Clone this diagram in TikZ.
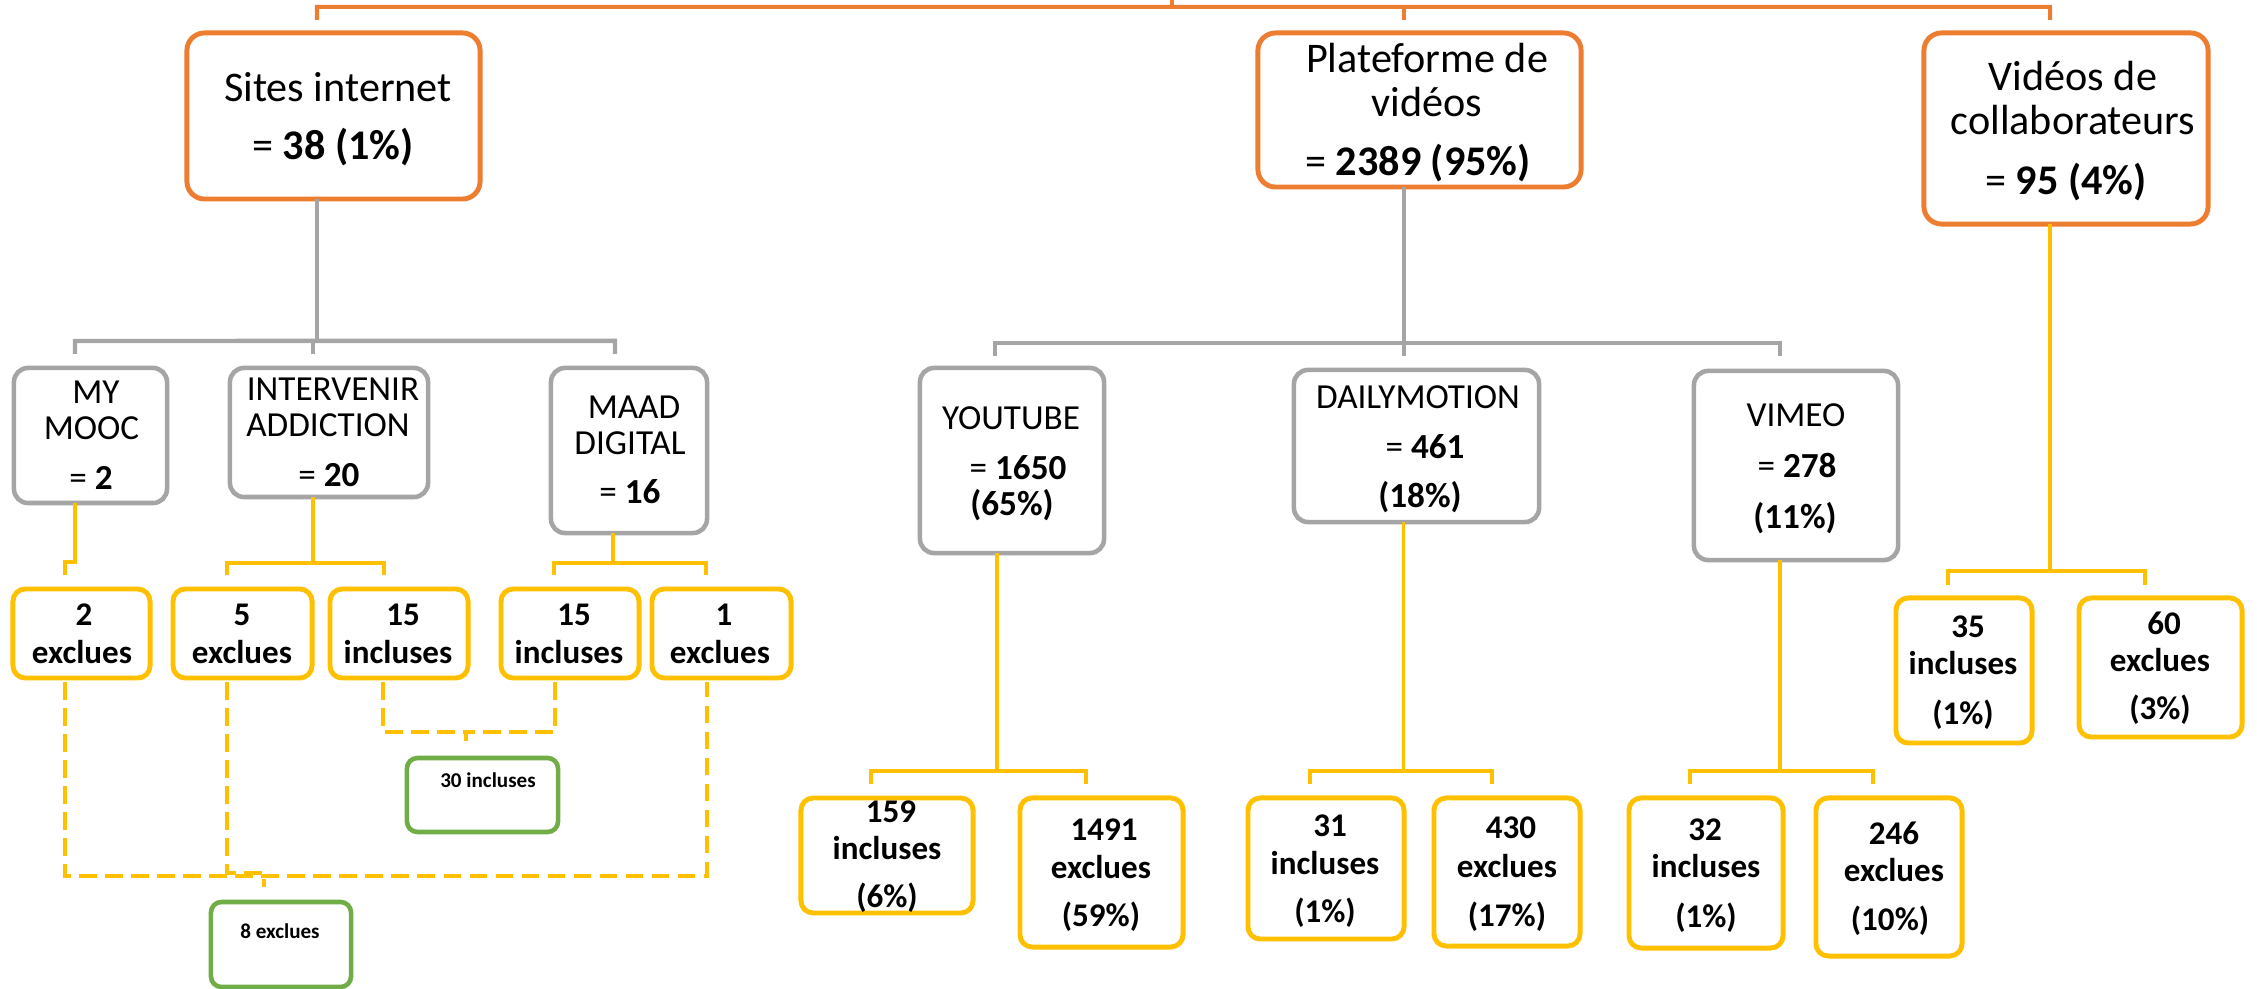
\documentclass[tikz,border=0pt]{standalone}
\usepackage{fontspec}
\setmainfont{Carlito}
\usetikzlibrary{calc}
\definecolor{corange}{HTML}{ED7D31}
\definecolor{cgray}{HTML}{A5A5A5}
\definecolor{cyellow}{HTML}{FFC000}
\definecolor{cgreen}{HTML}{70AD47}
\begin{document}
\begin{tikzpicture}[x=0.01cm,y=-0.01cm,
  every node/.style={inner sep=0pt,outer sep=0pt},
  obox/.style={draw=corange,line width=1.4pt,rounded corners=5pt},
  gbox/.style={draw=cgray,line width=1.3pt,rounded corners=4pt},
  ybox/.style={draw=cyellow,line width=1.4pt,rounded corners=3.5pt},
  grbox/.style={draw=cgreen,line width=1.3pt,rounded corners=3pt},
  oline/.style={draw=corange,line width=1.15pt},
  gline/.style={draw=cgray,line width=1.25pt},
  yline/.style={draw=cyellow,line width=1.2pt},
  ythin/.style={draw=cyellow,line width=1.0pt},
  dline/.style={draw=cyellow,line width=1.15pt,dash pattern=on 5pt off 2.4pt},
  tA/.style={font=\fontsize{12}{14}\selectfont},
  tB/.style={font=\fontsize{10}{12}\selectfont},
  tC/.style={font=\fontsize{9.4}{11}\selectfont\bfseries},
  tD/.style={font=\fontsize{6}{7}\selectfont\bfseries}]
\useasboundingbox (0,0) rectangle (2257,989);

% ---------- level 1 (orange)
\node[obox,minimum width=2.93cm,minimum height=1.66cm] (sites) at (333.5,116) {};
\node[obox,minimum width=3.23cm,minimum height=1.54cm] (plat) at (1419.5,110) {};
\node[obox,minimum width=2.84cm,minimum height=1.91cm] (collab) at (2066,128.5) {};

\node[tA] (sitesA) at (338,87) {Sites internet};
\node[tA] (sitesB) at (333,147) {= \textbf{38 (1\%)}};
\node[tA] (platA) at (1427,58) {Plateforme de};
\node[tA] (platB) at (1427,102) {vidéos};
\node[tA] (platC) at (1418,163) {= \textbf{2389 (95\%)}};
\node[tA] (collabA) at (2073,76) {Vidéos de};
\node[tA] (collabB) at (2073,120) {collaborateurs};
\node[tA] (collabC) at (2066,182) {= \textbf{95 (4\%)}};

% ---------- level 2 (gray)
\node[gbox,minimum width=1.53cm,minimum height=1.35cm] (mymooc) at (90.5,435.5) {};
\node[gbox,minimum width=1.98cm,minimum height=1.29cm] (interv) at (329,432.5) {};
\node[gbox,minimum width=1.56cm,minimum height=1.65cm] (maad) at (629,450.5) {};
\node[gbox,minimum width=1.84cm,minimum height=1.85cm] (youtube) at (1012,460.5) {};
\node[gbox,minimum width=2.45cm,minimum height=1.52cm] (daily) at (1416.5,446) {};
\node[gbox,minimum width=2.04cm,minimum height=1.89cm] (vimeo) at (1796,465.5) {};

\node[tB] (mymoocA) at (96,392) {MY};
\node[tB] (mymoocB) at (91.5,428) {MOOC};
\node[tB] (mymoocC) at (91,478) {= \textbf{2}};
\node[tB] (intervA) at (333,389) {INTERVENIR};
\node[tB] (intervB) at (328,425) {ADDICTION};
\node[tB] (intervC) at (329,475) {= \textbf{20}};
\node[tB] (maadA) at (634,407) {MAAD};
\node[tB] (maadB) at (630,443) {DIGITAL};
\node[tB] (maadC) at (630,492) {= \textbf{16}};
\node[tB] (youtubeA) at (1011,418) {YOUTUBE};
\node[tB] (youtubeB) at (1018,468) {= \textbf{1650}};
\node[tB] (youtubeC) at (1012,505) {\textbf{(65\%)}};
\node[tB] (dailyA) at (1418,397) {DAILYMOTION};
\node[tB] (dailyB) at (1425,447) {= \textbf{461}};
\node[tB] (dailyC) at (1420,497) {\textbf{(18\%)}};
\node[tB] (vimeoA) at (1796,415) {VIMEO};
\node[tB] (vimeoB) at (1797,465) {= \textbf{278}};
\node[tB] (vimeoC) at (1795,518) {\textbf{(11\%)}};

% ---------- level 3 left (yellow)
\node[ybox,minimum width=1.37cm,minimum height=0.89cm] (e2) at (81.5,633.5) {};
\node[ybox,minimum width=1.39cm,minimum height=0.89cm] (e5) at (242.5,633.5) {};
\node[ybox,minimum width=1.38cm,minimum height=0.89cm] (i15a) at (399,633.5) {};
\node[ybox,minimum width=1.38cm,minimum height=0.89cm] (i15b) at (570,633.5) {};
\node[ybox,minimum width=1.39cm,minimum height=0.89cm] (e1) at (721.5,633.5) {};

\node[tC] (e2A) at (84,615) {2};
\node[tC] (e2B) at (82,652) {exclues};
\node[tC] (e5A) at (242,615) {5};
\node[tC] (e5B) at (242,652) {exclues};
\node[tC] (i15aA) at (403,615) {15};
\node[tC] (i15aB) at (398,652) {incluses};
\node[tC] (i15bA) at (574,615) {15};
\node[tC] (i15bB) at (569,652) {incluses};
\node[tC] (e1A) at (724,615) {1};
\node[tC] (e1B) at (720,652) {exclues};

% ---------- level 3 right (yellow)
\node[ybox,minimum width=1.36cm,minimum height=1.45cm] (i35) at (1964,670.5) {};
\node[ybox,minimum width=1.63cm,minimum height=1.39cm] (e60) at (2160.5,667.5) {};
\node[ybox,minimum width=1.72cm,minimum height=1.15cm] (i159) at (887,855.5) {};
\node[ybox,minimum width=1.63cm,minimum height=1.49cm] (e1491) at (1101.5,872.5) {};
\node[ybox,minimum width=1.56cm,minimum height=1.41cm] (i31) at (1326,868.5) {};
\node[ybox,minimum width=1.46cm,minimum height=1.48cm] (e430) at (1507,872) {};
\node[ybox,minimum width=1.54cm,minimum height=1.50cm] (i32) at (1706,873) {};
\node[ybox,minimum width=1.46cm,minimum height=1.58cm] (e246) at (1889,877) {};

\node[tC] (i35A) at (1968,627) {35};
\node[tC] (i35B) at (1963,663) {incluses};
\node[tC] (i35C) at (1963,715) {(1\%)};
\node[tC] (e60A) at (2164,623) {60};
\node[tC] (e60B) at (2160,660) {exclues};
\node[tC] (e60C) at (2160,710) {(3\%)};
\node[tC] (i159A) at (891,812) {159};
\node[tC] (i159B) at (887,848) {incluses};
\node[tC] (i159C) at (887,898) {(6\%)};
\node[tC] (e1491A) at (1104,830) {1491};
\node[tC] (e1491B) at (1101,867) {exclues};
\node[tC] (e1491C) at (1101,917) {(59\%)};
\node[tC] (i31A) at (1330,826) {31};
\node[tC] (i31B) at (1325,863) {incluses};
\node[tC] (i31C) at (1325,913) {(1\%)};
\node[tC] (e430A) at (1511,828) {430};
\node[tC] (e430B) at (1507,866) {exclues};
\node[tC] (e430C) at (1507,917) {(17\%)};
\node[tC] (i32A) at (1705,830) {32};
\node[tC] (i32B) at (1706,866) {incluses};
\node[tC] (i32C) at (1706,918) {(1\%)};
\node[tC] (e246A) at (1894,833) {246};
\node[tC] (e246B) at (1894,870) {exclues};
\node[tC] (e246C) at (1890,921) {(10\%)};

% ---------- green boxes
\node[grbox,minimum width=1.51cm,minimum height=0.74cm] (i30) at (482.5,795) {};
\node[grbox,minimum width=1.40cm,minimum height=0.85cm] (e8) at (281,944.5) {};
\node[tD] (i30A) at (488,780) {30 incluses};
\node[tD] (e8A) at (280,931) {8 exclues};

% ---------- connectors: orange
\coordinate (root) at (1172,0);
\draw[oline] (root) -- ++(0,7);
\draw[oline] ($(sites.north)+(-16.5,-13)$) -- ($(sites.north)+(-16.5,-26)$)
  -- ($(collab.north)+(-16,-26)$) -- ($(collab.north)+(-16,-13)$);
\draw[oline] ($(plat.north)+(-15.5,-26)$) -- ($(plat.north)+(-15.5,-13)$);

% ---------- connectors: gray
\draw[gline] ($(sites.south)+(-16.5,0)$) -- ($(sites.south)+(-16.5,142)$);
\draw[gline] ($(mymooc.north)+(-15.5,-14)$) -- ($(mymooc.north)+(-15.5,-27)$)
  -- ($(maad.north)+(-14,-27)$) -- ($(maad.north)+(-14,-14)$);
\draw[gline] ($(interv.north)+(-16,-27)$) -- ($(interv.north)+(-16,-14)$);

\draw[gline] ($(plat.south)+(-15.5,0)$) -- ($(daily.north)+(-12.5,-14)$);
\draw[gline] ($(youtube.north)+(-17,-12)$) |- ($(daily.north)+(-12.5,-27)$)
  -| ($(vimeo.north)+(-16,-15)$);

% ---------- connectors: yellow (left)
\draw[yline] ($(mymooc.south)+(-15.5,0)$) -- ++(0,59) -- ++(-10,0) -- ($(e2.north)+(-16.5,-14)$);
\draw[yline] ($(interv.south)+(-16,0)$) -- ++(0,66);
\draw[yline] ($(e5.north)+(-15.5,-14)$) |- ($(interv.south)+(-16,66)$) -| ($(i15a.north)+(-15,-14)$);
\draw[yline] ($(maad.south)+(-16,0)$) -- ++(0,30);
\draw[yline] ($(i15b.north)+(-16,-14)$) |- ($(maad.south)+(-16,30)$) -| ($(e1.north)+(-15.5,-14)$);

% ---------- connectors: yellow (right)
\draw[ythin] ($(youtube.south)+(-15,0)$) -- ++(0,218);
\draw[yline] ($(i159.north)+(-16,-14)$) |- ($(youtube.south)+(-15,218)$) -| ($(e1491.north)+(-15.5,-14)$);
\draw[ythin] ($(daily.south)+(-13,0)$) -- ++(0,249);
\draw[yline] ($(i31.north)+(-16,-14)$) |- ($(daily.south)+(-13,249)$) -| ($(e430.north)+(-15,-14)$);
\draw[ythin] ($(vimeo.south)+(-16,0)$) -- ++(0,211);
\draw[yline] ($(i32.north)+(-16,-14)$) |- ($(vimeo.south)+(-16,211)$) -| ($(e246.north)+(-16,-14)$);
\draw[ythin] ($(collab.south)+(-16,0)$) -- ++(0,347);
\draw[yline] ($(i35.north)+(-16,-13)$) |- ($(collab.south)+(-16,347)$) -| ($(e60.north)+(-15.5,-13)$);

% ---------- dashed connectors
\draw[dline] ($(e2.south)+(-16.5,4)$) |- ($(e1.south)+(-14.5,198)$) -- ($(e1.south)+(-14.5,4)$);
\draw[dline] ($(e5.south)+(-15.5,4)$) |- ($(e8.north)+(-17,-29)$) -- ($(e8.north)+(-17,-15)$);
\draw[dline] ($(i15a.south)+(-16,4)$) |- ($(i30.north)+(-16.5,-26)$);
\draw[dline] ($(i15b.south)+(-15,4)$) |- ($(i30.north)+(-16.5,-26)$) -- ($(i30.north)+(-16.5,-14)$);
\end{tikzpicture}
\end{document}
